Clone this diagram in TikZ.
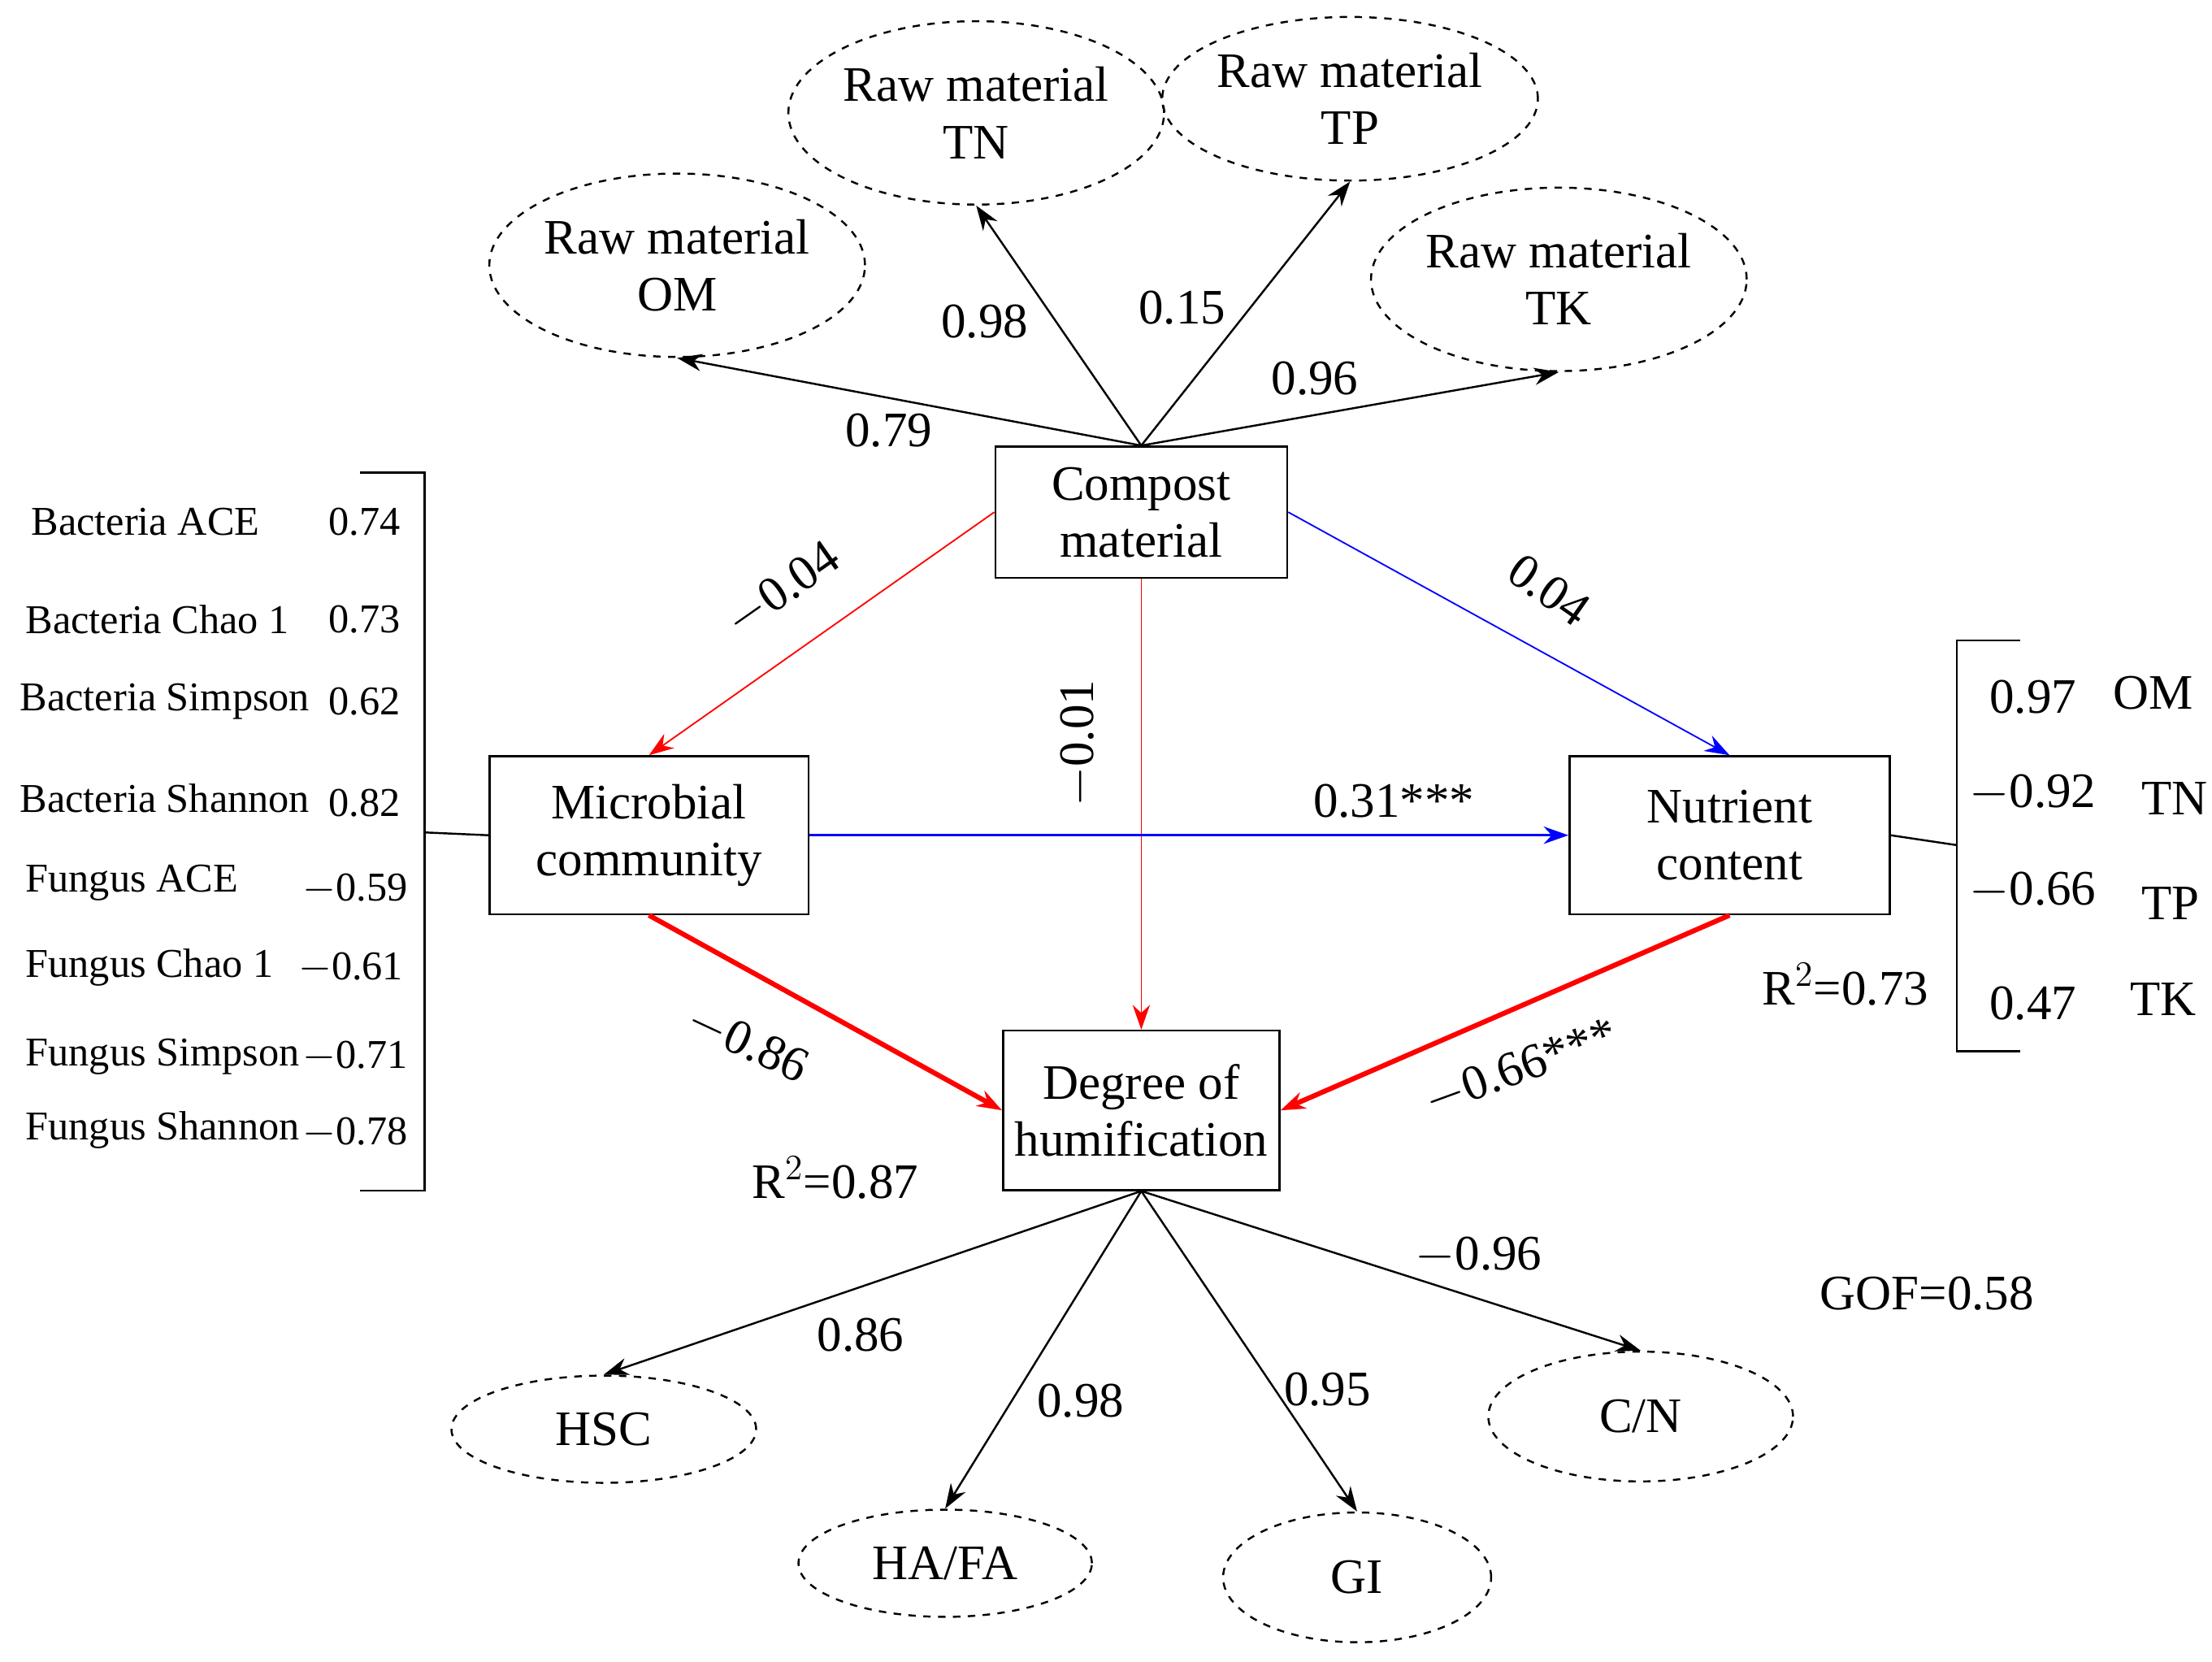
\documentclass[tikz,border=0pt]{standalone}
\usepackage{fontspec}
\setmainfont{Liberation Serif}
\usetikzlibrary{shapes.geometric,arrows.meta}
\begin{document}
\begin{tikzpicture}[x=0.02cm,y=-0.02cm,
 every node/.style={font=\fontsize{20}{23}\selectfont},
 ell/.style={ellipse,draw,dashed,line width=0.8pt,inner sep=0pt,align=center},
 box/.style={draw,rectangle,line width=0.8pt,inner sep=0pt,align=center},
 arr/.style={-{Stealth[length=10pt,width=7pt]},line width=0.8pt},
 sm/.style={font=\fontsize{16.5}{19}\selectfont}]
\useasboundingbox (0,0) rectangle (1568,1178);
\node[ell,minimum width=264*0.02cm,minimum height=130*0.02cm] (om) at (480,188) {Raw material\\OM};
\node[ell,minimum width=254*0.02cm,minimum height=130*0.02cm] (tn) at (692,80) {Raw material\\TN};
\node[ell,minimum width=238*0.02cm,minimum height=116*0.02cm] (tp) at (957,70) {Raw material\\TP};
\node[ell,minimum width=256*0.02cm,minimum height=130*0.02cm] (tk) at (1105,198) {Raw material\\TK};
\node[ell,minimum width=216*0.02cm,minimum height=76*0.02cm] (hsc) at (428,1013) {HSC};
\node[ell,minimum width=208*0.02cm,minimum height=76*0.02cm] (ha) at (670,1108) {HA/FA};
\node[ell,minimum width=190*0.02cm,minimum height=92*0.02cm] (gi) at (962,1118) {GI};
\node[ell,minimum width=216*0.02cm,minimum height=92*0.02cm] (cn) at (1163,1004) {C/N};
\node[box,minimum width=207*0.02cm,minimum height=93*0.02cm] (cm) at (809,363) {Compost\\material};
\node[box,minimum width=226*0.02cm,minimum height=112*0.02cm] (mc) at (460,592) {Microbial\\community};
\node[box,minimum width=227*0.02cm,minimum height=112*0.02cm] (nc) at (1226,592) {Nutrient\\content};
\node[box,minimum width=196*0.02cm,minimum height=113*0.02cm] (dh) at (809,787) {Degree of\\humification};
\draw[arr] (cm.north) -- (om.south);
\draw[arr] (cm.north) -- (tn.south);
\draw[arr] (cm.north) -- (tp.south);
\draw[arr] (cm.north) -- (tk.south);
\draw[arr,red,line width=0.6pt] (cm.west) -- (mc.north);
\draw[arr,blue,line width=0.6pt] (cm.east) -- (nc.north);
\draw[arr,red,line width=0.6pt] (cm.south) -- (dh.north);
\draw[arr,blue,line width=1pt] (mc.east) -- (nc.west);
\draw[arr,red,line width=2pt] (mc.south) -- (dh.west);
\draw[arr,red,line width=2pt] (nc.south) -- (dh.east);
\draw[arr] (dh.south) -- (hsc.north);
\draw[arr] (dh.south) -- (ha.north);
\draw[arr] (dh.south) -- (gi.north);
\draw[arr] (dh.south) -- (cn.north);
% brackets
\coordinate (lb) at (301,590);
\coordinate (rb) at (1387,599);
\draw[line width=0.8pt] (255,335) -- (301,335) -- (301,844) -- (255,844);
\draw[line width=0.8pt] (mc.west) -- (lb);
\draw[line width=0.8pt] (1432,454) -- (1387,454) -- (1387,745) -- (1432,745);
\draw[line width=0.8pt] (nc.east) -- (rb);
% labels
\node at (630,305) {0.79};
\node at (698,228) {0.98};
\node at (838,218) {0.15};
\node at (932,268) {0.96};
\node[rotate=35] at (555,418) {$-$0.04};
\node[rotate=-35] at (1098,418) {0.04};
\node[rotate=90] at (765,527) {$-$0.01};
\node at (988,568) {0.31***};
\node[rotate=-25] at (530,740) {$-$0.86};
\node[rotate=20] at (1078,757) {$-$0.66***};
\node at (592,835) {R$^2$=0.87};
\node at (1308,698) {R$^2$=0.73};
\node at (610,946) {0.86};
\node at (766,993) {0.98};
\node at (941,985) {0.95};
\node at (1048,890) {$-$0.96};
\node at (1366,917) {GOF=0.58};
% left list
\node[sm,anchor=west] at (16,370) {Bacteria ACE};
\node[sm,anchor=west] at (12,439) {Bacteria Chao 1};
\node[sm,anchor=west] at (8,497) {Bacteria Simpson};
\node[sm,anchor=west] at (8,566) {Bacteria Shannon};
\node[sm,anchor=west] at (12,626) {Fungus ACE};
\node[sm,anchor=west] at (12,686) {Fungus Chao 1};
\node[sm,anchor=west] at (12,749) {Fungus Simpson};
\node[sm,anchor=west] at (12,801) {Fungus Shannon};
\node[sm,anchor=east] at (290,370) {0.74};
\node[sm,anchor=east] at (290,439) {0.73};
\node[sm,anchor=east] at (290,497) {0.62};
\node[sm,anchor=east] at (290,569) {0.82};
\node[sm,anchor=east] at (295,630) {$-$0.59};
\node[sm,anchor=east] at (292,686) {$-$0.61};
\node[sm,anchor=east] at (295,749) {$-$0.71};
\node[sm,anchor=east] at (295,803) {$-$0.78};
% right list
\node[anchor=east] at (1478,494) {0.97};
\node[anchor=east] at (1492,562) {$-$0.92};
\node[anchor=east] at (1492,631) {$-$0.66};
\node[anchor=east] at (1478,711) {0.47};
\node[anchor=west] at (1492,491) {OM};
\node[anchor=west] at (1512,566) {TN};
\node[anchor=west] at (1512,640) {TP};
\node[anchor=west] at (1504,708) {TK};
\end{tikzpicture}
\end{document}
